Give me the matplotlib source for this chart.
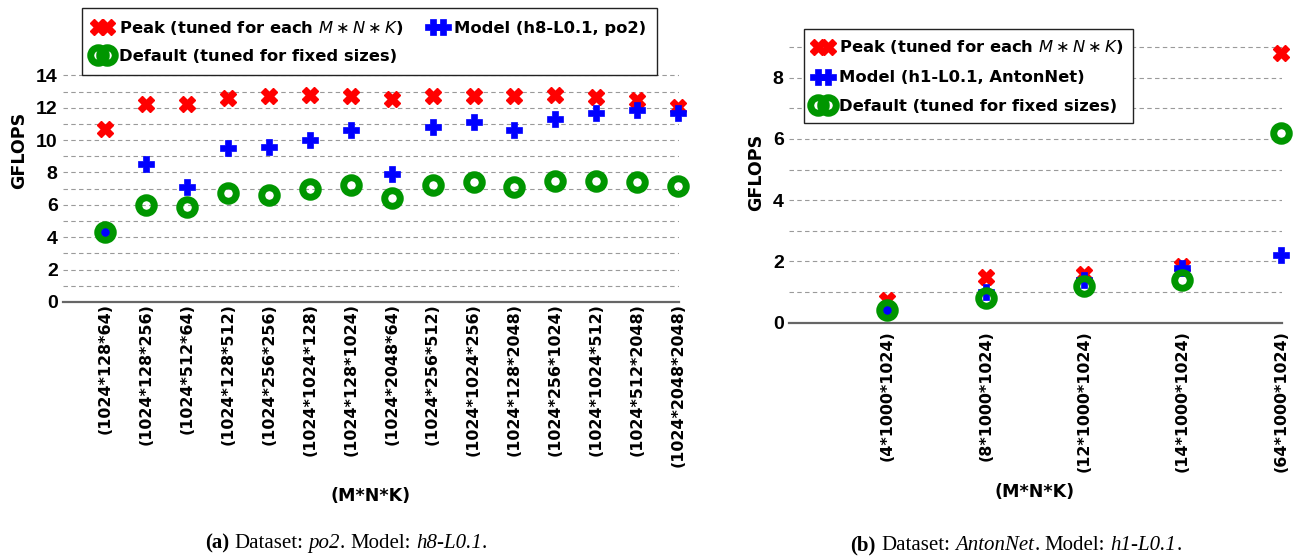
import matplotlib
matplotlib.use('Agg')
import matplotlib.pyplot as plt
from matplotlib.font_manager import FontProperties
from matplotlib.offsetbox import TextArea, HPacker, DrawingArea, AnchoredOffsetbox

# ---------------- data ----------------
cats_a = ['(1024*128*64)', '(1024*128*256)', '(1024*512*64)', '(1024*128*512)',
          '(1024*256*256)', '(1024*1024*128)', '(1024*128*1024)', '(1024*2048*64)',
          '(1024*256*512)', '(1024*1024*256)', '(1024*128*2048)', '(1024*256*1024)',
          '(1024*1024*512)', '(1024*512*2048)', '(1024*2048*2048)']
peak_a = [10.7, 12.2, 12.2, 12.6, 12.7, 12.8, 12.7, 12.55, 12.7, 12.7, 12.7, 12.8, 12.65, 12.5, 12.05]
model_a = [4.3, 8.5, 7.1, 9.5, 9.6, 10.0, 10.6, 7.9, 10.8, 11.1, 10.6, 11.3, 11.65, 11.85, 11.65]
default_a = [4.3, 6.0, 5.85, 6.75, 6.6, 7.0, 7.2, 6.4, 7.2, 7.4, 7.1, 7.5, 7.5, 7.4, 7.15]

cats_b = ['(4*1000*1024)', '(8*1000*1024)', '(12*1000*1024)', '(14*1000*1024)', '(64*1000*1024)']
peak_b = [0.75, 1.5, 1.6, 1.85, 8.8]
model_b = [0.4, 1.0, 1.4, 1.78, 2.2]
default_b = [0.4, 0.8, 1.2, 1.4, 6.2]

yticks_a = [0, 2, 4, 6, 8, 10, 12, 14]
yticks_b = [0, 2, 4, 6, 8]

labels_a = ['Peak (tuned for each $M \\ast N \\ast K$)', 'Model (h8-L0.1, po2)',
            'Default (tuned for fixed sizes)']
labels_b = ['Peak (tuned for each $M \\ast N \\ast K$)', 'Model (h1-L0.1, AntonNet)',
            'Default (tuned for fixed sizes)']

# ---------------- style ----------------
W, H = 1294, 558
RED, BLUE, GREEN = '#ff0000', '#0000ff', '#009600'
GRID = '#9a9a9a'

fig = plt.figure(figsize=(W / 100, H / 100), dpi=100)


def px_axes(x0, x1, ytop, ybot):
    return fig.add_axes([x0 / W, 1 - ybot / H, (x1 - x0) / W, (ybot - ytop) / H])


tick_font = FontProperties(family='DejaVu Sans', weight='bold', size=11.4)
ytick_font = FontProperties(family='Liberation Sans', weight='bold', size=14)
lab_font = FontProperties(family='DejaVu Sans', weight='bold', size=12.6)
leg_font = FontProperties(family='DejaVu Sans', weight='bold', size=11.8,
                          math_fontfamily='dejavusans')


def draw(ax, cats, peak, model, default, ymax, yticks, xpad):
    n = len(cats)
    for v in range(1, int(ymax) + 1):
        ax.axhline(v, color=GRID, lw=0.8, ls=(0, (4.0, 3.0)), zorder=0)
    for s in ['top', 'right', 'left']:
        ax.spines[s].set_visible(False)
    ax.spines['bottom'].set_color('#666666')
    ax.spines['bottom'].set_linewidth(1.6)
    x = list(range(n))
    hp, = ax.plot(x, peak, ls='none', marker='X', ms=11, mew=1, color=RED,
                  clip_on=False, zorder=3)
    hm, = ax.plot(x, model, ls='none', marker='P', ms=11.5, mew=0.5, color=BLUE,
                  clip_on=False, zorder=4)
    hd, = ax.plot(x, default, ls='none', marker='o', ms=11.2, mew=5.0,
                  markerfacecolor='none', markeredgecolor=GREEN, clip_on=False, zorder=5)
    ax.set_xticks(x)
    ax.set_xticklabels(cats, rotation=90, fontproperties=tick_font, va='top', ha='center')
    ax.set_yticks(yticks)
    ax.set_yticklabels([str(t) for t in yticks], fontproperties=ytick_font)
    ax.tick_params(axis='both', length=0)
    ax.tick_params(axis='x', pad=xpad)
    ax.tick_params(axis='y', pad=3.8)
    return hp, hm, hd


# left axes: x from 63 to 679 px, y 0 at 302, 14 at 75.3
ax1 = px_axes(63, 679, 302 - 14.2 * 16.19, 302)
ax1.set_xlim(-1.03, 14.02)
ax1.set_ylim(0, 14.2)
hp1, hm1, hd1 = draw(ax1, cats_a, peak_a, model_a, default_a, 14, yticks_a, 1.0)

# right axes: x from 789 to 1281.7 px, y 0 at 322.7, 8 at 77.7
ax2 = px_axes(789, 1281.7, 322.7 - 9.3 * 30.63, 322.7)
ax2.set_xlim(-1.0, 4.01)
ax2.set_ylim(0, 9.3)
hp2, hm2, hd2 = draw(ax2, cats_b, peak_b, model_b, default_b, 9, yticks_b, 5.5)

# axis labels
fig.text(19 / W, 1 - 150 / H, 'GFLOPS', rotation=90, ha='center', va='center',
         fontproperties=lab_font)
fig.text(756 / W, 1 - 172 / H, 'GFLOPS', rotation=90, ha='center', va='center',
         fontproperties=lab_font)
fig.text(371 / W, 1 - 496 / H, '(M*N*K)', ha='center', va='center', fontproperties=lab_font)
fig.text(1035 / W, 1 - 492 / H, '(M*N*K)', ha='center', va='center', fontproperties=lab_font)

# legends
leg_kw = dict(loc='upper left', bbox_transform=fig.transFigure, frameon=True,
              fancybox=False, framealpha=1, edgecolor='#222222', numpoints=2,
              handlelength=1.2, handletextpad=0.4, borderaxespad=0, prop=leg_font)
leg1 = ax1.legend([hp1, hd1, hm1], [labels_a[0], labels_a[2], labels_a[1]], ncol=2,
                  bbox_to_anchor=(82 / W, 1 - 8 / H), columnspacing=1.5,
                  labelspacing=0.75, borderpad=0.65, **leg_kw)
leg1.get_frame().set_linewidth(1.0)
leg2 = ax2.legend([hp2, hm2, hd2], labels_b, ncol=1,
                  bbox_to_anchor=(804 / W, 1 - 29.3 / H), labelspacing=0.85,
                  borderpad=0.55, **leg_kw)
leg2.get_frame().set_linewidth(1.0)


# captions
def caption(parts, cx, cy, size=15):
    children = []
    for kind, txt in parts:
        if kind == 'sp':
            children.append(DrawingArea(0.25 * size, 1))
            continue
        props = dict(fontfamily='Liberation Serif', fontsize=size, color='black')
        if kind == 'b':
            props['fontweight'] = 'bold'
        elif kind == 'i':
            props['fontstyle'] = 'italic'
        children.append(TextArea(txt, textprops=props))
    pack = HPacker(children=children, align='baseline', pad=0, sep=0)
    box = AnchoredOffsetbox(loc='center', child=pack, bbox_to_anchor=(cx / W, 1 - cy / H),
                            bbox_transform=fig.transFigure, frameon=False, pad=0, borderpad=0)
    fig.add_artist(box)


caption([('b', '(a)'), ('sp', ''), ('r', 'Dataset:'), ('sp', ''), ('i', 'po2'), ('r', '.'),
         ('sp', ''), ('r', 'Model:'), ('sp', ''), ('i', 'h8-L0.1'), ('r', '.')], 346, 543)
caption([('b', '(b)'), ('sp', ''), ('r', 'Dataset:'), ('sp', ''), ('i', 'AntonNet'), ('r', '.'),
         ('sp', ''), ('r', 'Model:'), ('sp', ''), ('i', 'h1-L0.1'), ('r', '.')], 1016, 545)

fig.savefig('out.png', dpi=100)
